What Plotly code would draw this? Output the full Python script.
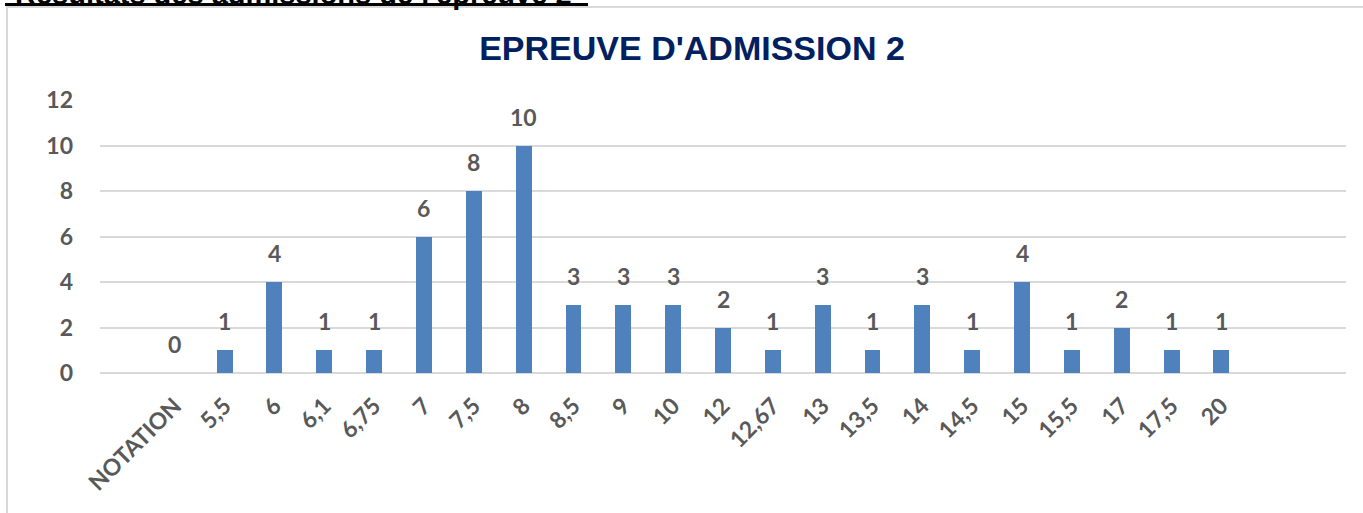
import plotly.graph_objects as go

categories = ["NOTATION", "5,5", "6", "6,1", "6,75", "7", "7,5", "8", "8,5", "9", "10",
              "12", "12,67", "13", "13,5", "14", "14,5", "15", "15,5", "17", "17,5", "20"]
counts = [0, 1, 4, 1, 1, 6, 8, 10, 3, 3, 3, 2, 1, 3, 1, 3, 1, 4, 1, 2, 1, 1]
y_ticks = [0, 2, 4, 6, 8, 10, 12]

title_text = "EPREUVE D'ADMISSION 2"
heading_text = "Résultats des admissions de l'épreuve 2"

W, H = 1363, 513
L, R, T, B = 100, 17, 100, 140
pw, ph = W - L - R, H - T - B

def px_x(p):
    return (p - L) / pw

def px_y(p):
    return (H - B - p) / ph

label_color = "#595959"
fnt = "Lato, Carlito, Calibri, sans-serif"

fig = go.Figure(go.Bar(
    x=categories, y=counts,
    marker=dict(color="#4F81BD", line=dict(width=0)),
    width=0.32,
    cliponaxis=False,
    hoverinfo="skip",
))

# value labels (x given as category index)
for i, v in enumerate(counts):
    fig.add_annotation(x=i, y=v, text="<b>%d</b>" % v, showarrow=False,
                       xanchor="center", yanchor="bottom", yshift=13,
                       font=dict(family=fnt, size=23, color=label_color))

fig.update_layout(
    width=W, height=H,
    margin=dict(l=L, r=R, t=T, b=B),
    paper_bgcolor="white", plot_bgcolor="white",
    showlegend=False,
    bargap=0,
    title=dict(text="<b>" + title_text + "</b>", x=692 / W, xanchor="center",
               y=1 - 48 / H, yanchor="middle",
               font=dict(family="Arial, Liberation Sans", size=34, color="#002060")),
    xaxis=dict(type="category", range=[-1.5, 23.5], tickangle=-45, automargin=False,
               showgrid=False, showline=False, ticks="", ticklabelstandoff=14,
               tickfont=dict(family=fnt, size=23, color=label_color, weight="bold")),
    yaxis=dict(range=[0, 12], tickvals=y_ticks, showgrid=True, gridcolor="#D9D9D9",
               gridwidth=2, zeroline=True, zerolinecolor="#D9D9D9", zerolinewidth=2,
               showline=False, ticks="", ticklabelstandoff=26, automargin=False,
               tickfont=dict(family=fnt, size=23, color=label_color, weight="bold")),
)

# chart frame (partially outside the window)
fig.add_shape(type="rect", xref="paper", yref="paper",
              x0=px_x(7), x1=px_x(1400), y0=px_y(600), y1=px_y(7),
              line=dict(color="#D9D9D9", width=2), fillcolor="rgba(0,0,0,0)", layer="below")

# document heading, cut off at the top edge
fig.add_annotation(text="<b>" + heading_text + "</b>", xref="paper", yref="paper",
                   x=px_x(13), y=px_y(12), xanchor="left", yanchor="bottom", showarrow=False,
                   font=dict(family="Arial, Liberation Sans", size=29, color="black"))
fig.add_shape(type="line", xref="paper", yref="paper",
              x0=px_x(5), x1=px_x(588), y0=px_y(4.5), y1=px_y(4.5),
              line=dict(color="black", width=3))

fig.write_html("out.html", config={"displayModeBar": False},
               post_script="document.body.style.margin='0';")
